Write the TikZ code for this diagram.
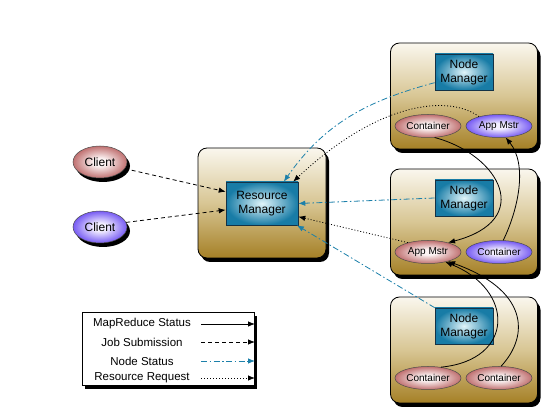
\documentclass[tikz,border=0pt]{standalone}
\usepackage{fontspec}
\setmainfont{Liberation Sans}
\usetikzlibrary{shapes.geometric,shadows,arrows.meta}
\definecolor{panelTop}{RGB}{250,247,238}
\definecolor{panelMid}{RGB}{216,198,148}
\definecolor{panelBot}{RGB}{165,128,38}
\definecolor{mgrIn}{RGB}{225,245,250}
\definecolor{mgrOut}{RGB}{24,124,166}
\definecolor{mgrLine}{RGB}{20,50,70}
\definecolor{pinkIn}{RGB}{252,244,244}
\definecolor{pinkOut}{RGB}{176,78,78}
\definecolor{purpIn}{RGB}{244,240,255}
\definecolor{purpOut}{RGB}{86,52,240}
\definecolor{nsblue}{RGB}{28,128,170}
\pgfdeclareradialshading{pinkshade}{\pgfpoint{0bp}{0bp}}{color(0bp)=(pinkIn); color(6bp)=(pinkIn);
  color(30bp)=(pinkOut); color(50bp)=(pinkOut)}
\pgfdeclareradialshading{purpshade}{\pgfpoint{0bp}{0bp}}{color(0bp)=(purpIn); color(6bp)=(purpIn);
  color(30bp)=(purpOut); color(50bp)=(purpOut)}
\tikzset{blackshadow/.style={drop shadow={shadow xshift=3pt,shadow yshift=-4pt,opacity=1,fill=black}},
 panel/.style={draw=black,line width=0.8pt,rounded corners=9pt,
   minimum width=147pt,minimum height=106pt,
   top color=panelTop,bottom color=panelBot,middle color=panelMid,blackshadow},
 manager/.style={draw=mgrLine,line width=0.6pt,inner color=mgrIn,outer color=mgrOut,
   minimum width=58pt,minimum height=36pt,inner sep=0pt,align=center,
   font=\fontsize{12}{14}\selectfont},
 pinkell/.style={ellipse,draw=black!70,line width=0.5pt,shading=pinkshade},
 purpell/.style={ellipse,draw=black!70,line width=0.5pt,shading=purpshade},
 task/.style={minimum width=66pt,minimum height=23pt,inner sep=0pt,
   font=\fontsize{10}{12}\selectfont},
 client/.style={minimum width=54pt,minimum height=32pt,inner sep=0pt,blackshadow,
   font=\fontsize{12}{14}\selectfont},
 legbox/.style={draw=black,line width=0.6pt,fill=white,minimum width=172pt,minimum height=73pt,blackshadow},
 legtext/.style={font=\fontsize{11.5}{13}\selectfont},
 tip/.style={-{Latex[length=7pt,width=5.5pt]},line width=0.8pt},
 status/.style={tip,draw=black},
 jobsub/.style={tip,draw=black,dash pattern=on 4pt off 3pt},
 nodestat/.style={tip,draw=nsblue,dash pattern=on 6pt off 2.5pt on 1.5pt off 2.5pt},
 resreq/.style={tip,draw=black,dash pattern=on 1pt off 2pt},
 }

\begin{document}
\begin{tikzpicture}[x=1pt,y=-1pt]
    \useasboundingbox (0,0) rectangle (550,417);
    % panels and managers
    \node[panel,minimum width=128pt,minimum height=110pt] (rmpanel) at (262,203) {};
    \foreach \n/\y in {1/96, 2/222, 3/350} {
        \node[panel] (panel\n) at (464,\y) {};
        \node[manager] (nm\n) at (464,\y-24) {Node\\Manager};
    }
    \node[manager,minimum width=72pt,minimum height=43pt] (rm) at (262,203.5) {Resource\\Manager};
    % containers and app masters
    \node[task,pinkell] (ct1) at (428,126) {Container};
    \node[task,purpell] (am1) at (499,126) {App Mstr};
    \node[task,pinkell] (am2) at (428,252) {App Mstr};
    \node[task,purpell] (ct2) at (499,252) {Container};
    \node[task,pinkell] (ct3) at (428,378) {Container};
    \node[task,pinkell] (ct4) at (499,378) {Container};
    % clients
    \node[client,pinkell] (cl1) at (100,162) {Client};
    \node[client,purpell] (cl2) at (100,227) {Client};
    % job submission
    \draw[jobsub] (cl1.-15) -- (rm.162);
    \draw[jobsub] (cl2.10) -- (rm.190);
    % node status
    \draw[nodestat] (nm1.200) to[out=195,in=55] (rm.45);
    \draw[nodestat] (nm2.west) -- (rm.east);
    \draw[nodestat] (nm3.north west) -- (rm.-32);
    % resource requests
    \draw[resreq] (am1.155) .. controls (450,95) and (380,100) .. (rm.35);
    \draw[resreq] (am2.155) -- (rm.-20);
    % mapreduce status
    \draw[status] (ct1.-60) .. controls (500,155) and (535,220) .. (am2.25);
    \draw[status] (ct2.70) .. controls (518,210) and (528,165) .. (am1.-60);
    \draw[status] (ct3.40) .. controls (515,360) and (515,290) .. (am2.-30);
    \draw[status] (ct4.80) .. controls (530,335) and (528,290) .. (am2.-25);
    % legend
    \node[legbox] (legend) at (168,348.5) {};
    \foreach \lbl/\sty/\y in {MapReduce Status/status/324, Job Submission/jobsub/342,
                              Node Status/nodestat/361, Resource Request/resreq/378} {
        \node[legtext] (lt\y) at (142,\y) {\lbl};
        \coordinate (ls\y) at (201,\y);
        \coordinate (le\y) at (255,\y);
        \draw[\sty] (ls\y) -- (le\y);
    }
\end{tikzpicture}
\end{document}
